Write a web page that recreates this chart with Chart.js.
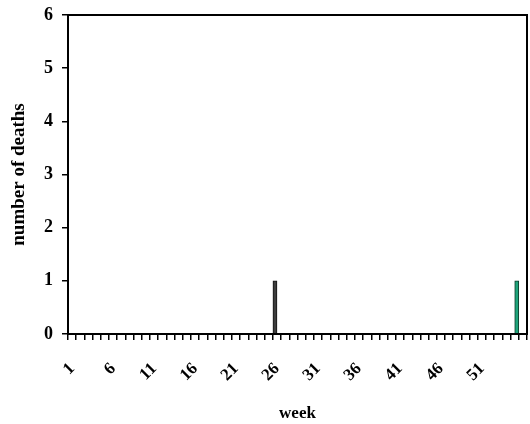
<!DOCTYPE html>
<html>
<head>
<meta charset="utf-8">
<script src="https://cdn.jsdelivr.net/npm/chart.js@4/dist/chart.umd.min.js"></script>
<style>
  html, body { margin: 0; padding: 0; background: #fff; }
  #wrap { width: 530px; height: 424px; }
</style>
</head>
<body>
<div id="wrap"><canvas id="deathChart" width="530" height="424"></canvas></div>
<script>
// weeks on the x axis
const weeks = Array.from({length: 56}, (_, i) => i + 1);
// week numbers that carry a printed label
const shownWeeks = [1, 6, 11, 16, 21, 26, 31, 36, 41, 46, 51];
// deaths per week, two series (grey and green bars)
const deathsGrey = [0,0,0,0,0,0,0,0,0,0, 0,0,0,0,0,0,0,0,0,0, 0,0,0,0,0,1,0,0,0,0, 0,0,0,0,0,0,0,0,0,0, 0,0,0,0,0,0,0,0,0,0, 0,0,0,0,0,0];
const deathsGreen = [0,0,0,0,0,0,0,0,0,0, 0,0,0,0,0,0,0,0,0,0, 0,0,0,0,0,0,0,0,0,0, 0,0,0,0,0,0,0,0,0,0, 0,0,0,0,0,0,0,0,0,0, 0,0,0,0,1,0];
const yTicks = [0, 1, 2, 3, 4, 5, 6];

const serif = 'Liberation Serif';

// box round the plot area, like the original
const frame = {
  id: 'frame',
  afterDraw(chart) {
    const a = chart.chartArea, ctx = chart.ctx;
    ctx.save();
    ctx.strokeStyle = '#000';
    ctx.lineWidth = 2;
    ctx.strokeRect(a.left, a.top, a.right - a.left, a.bottom - a.top);
    ctx.restore();
  }
};

const ctx = document.getElementById('deathChart').getContext('2d');
new Chart(ctx, {
  type: 'bar',
  data: {
    labels: weeks,
    datasets: [
      { label: 'grey', data: deathsGrey, backgroundColor: '#3c3c3c', borderColor: '#111', borderWidth: 1,
        categoryPercentage: 1, barPercentage: 1 },
      { label: 'green', data: deathsGreen, backgroundColor: '#1fa37a', borderColor: '#0b3b2a', borderWidth: 1,
        categoryPercentage: 1, barPercentage: 1 }
    ]
  },
  options: {
    responsive: false,
    animation: false,
    layout: { padding: { top: 15, right: 3, left: 8, bottom: 0 } },
    plugins: { legend: { display: false }, tooltip: { enabled: false } },
    scales: {
      x: {
        grid: { drawOnChartArea: false, drawTicks: true, tickLength: 6, color: '#000', lineWidth: 1.5, offset: true },
        border: { color: '#000', width: 2 },
        ticks: {
          autoSkip: false, minRotation: 45, maxRotation: 45, color: '#000', padding: 19,
          font: { family: serif, size: 17, weight: 'bold' },
          callback: function(v) { const w = weeks[v]; return shownWeeks.includes(w) ? String(w) : ''; }
        },
        title: { display: true, text: 'week', color: '#000', font: { family: serif, size: 17, weight: 'bold' }, padding: { top: 0, bottom: 0 } },
        afterFit(scale) { scale.height = 90; scale.paddingLeft = 0; scale.paddingRight = 0; }
      },
      y: {
        min: 0, max: 6,
        afterBuildTicks(scale) { scale.ticks = yTicks.map(v => ({ value: v })); },
        grid: { drawOnChartArea: false, drawTicks: true, tickLength: 6, color: '#000', lineWidth: 1.5 },
        border: { color: '#000', width: 2 },
        ticks: { color: '#000', padding: 9, font: { family: serif, size: 18, weight: 'bold' } },
        title: { display: true, text: 'number of deaths', color: '#000', font: { family: serif, size: 19, weight: 'bold' }, padding: 0 },
        afterFit(scale) { scale.width = 60; scale.paddingTop = 0; scale.paddingBottom = 0; }
      }
    }
  },
  plugins: [frame]
});
</script>
</body>
</html>
